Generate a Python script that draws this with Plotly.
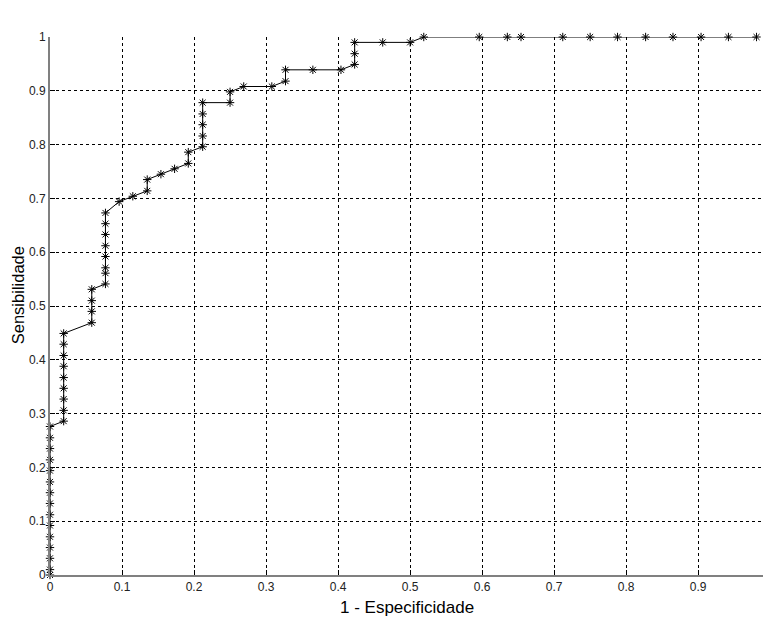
import plotly.graph_objects as go

fpr = [0, 0, 0, 0, 0, 0, 0, 0, 0, 0, 0, 0, 0, 0, 0,
       0.019, 0.019, 0.019, 0.019, 0.019, 0.019, 0.019, 0.019, 0.019,
       0.058, 0.058, 0.058, 0.058,
       0.077, 0.077, 0.077, 0.077, 0.077, 0.077, 0.077, 0.077,
       0.096, 0.115, 0.135, 0.135, 0.154, 0.173, 0.192, 0.192,
       0.212, 0.212, 0.212, 0.212, 0.212, 0.250, 0.250, 0.269, 0.308,
       0.327, 0.327, 0.365, 0.404, 0.423, 0.423, 0.423, 0.462, 0.500,
       0.519, 0.596, 0.635, 0.654, 0.712, 0.750, 0.788, 0.827, 0.865,
       0.904, 0.942, 0.981]
tpr = [0, 0.010, 0.031, 0.051, 0.071, 0.092, 0.112, 0.133, 0.153, 0.173,
       0.194, 0.214, 0.235, 0.255, 0.276,
       0.286, 0.306, 0.327, 0.347, 0.367, 0.388, 0.408, 0.429, 0.449,
       0.469, 0.490, 0.510, 0.531,
       0.541, 0.561, 0.571, 0.592, 0.612, 0.633, 0.653, 0.673,
       0.694, 0.704, 0.714, 0.735, 0.745, 0.755, 0.765, 0.786,
       0.796, 0.816, 0.837, 0.857, 0.878, 0.878, 0.898, 0.908, 0.908,
       0.918, 0.939, 0.939, 0.939, 0.949, 0.969, 0.990, 0.990, 0.990,
       1, 1, 1, 1, 1, 1, 1, 1, 1,
       1, 1, 1]

x_ticks = [0, 0.1, 0.2, 0.3, 0.4, 0.5, 0.6, 0.7, 0.8, 0.9]
x_labels = ["0", "0.1", "0.2", "0.3", "0.4", "0.5", "0.6", "0.7", "0.8", "0.9"]
y_ticks = [0, 0.1, 0.2, 0.3, 0.4, 0.5, 0.6, 0.7, 0.8, 0.9, 1]
y_labels = ["0", "0.1", "0.2", "0.3", "0.4", "0.5", "0.6", "0.7", "0.8", "0.9", "1"]

title_text = "Curva ROC"
x_title = "1 - Especificidade"
y_title = "Sensibilidade"

fig = go.Figure()
fig.add_trace(go.Scatter(
    x=fpr, y=tpr, mode="lines+markers",
    line=dict(color="black", width=1),
    marker=dict(symbol="asterisk-open", size=7, color="black",
                line=dict(color="black", width=1)),
    cliponaxis=False, showlegend=False))

font = "Liberation Sans, Arial, sans-serif"
axis_common = dict(
    showgrid=True, gridcolor="black", gridwidth=1, griddash="3px,3px",
    zeroline=False, showline=True, linecolor="#808080", linewidth=2,
    ticks="inside", ticklen=5, tickcolor="black",
    tickfont=dict(family=font, size=12, color="#222"),
)
fig.update_layout(
    width=763, height=619,
    margin=dict(l=50, r=0, t=37, b=44),
    paper_bgcolor="white", plot_bgcolor="white",
    xaxis=dict(range=[0, 0.99], tickvals=x_ticks, ticktext=x_labels, **axis_common),
    yaxis=dict(range=[0, 1], tickvals=y_ticks, ticktext=y_labels, **axis_common),
    annotations=[
        dict(text=title_text, xref="paper", yref="paper", x=0.5, y=0,
             yshift=0, showarrow=False, visible=False),
    ],
)
fig.update_layout(annotations=[
    dict(text=title_text, xref="x", yref="paper", x=0.495, y=1, yshift=18,
         xanchor="center", yanchor="middle", showarrow=False,
         font=dict(family=font, size=16.5, color="black")),
    dict(text=x_title, xref="x", yref="paper", x=0.495, y=0, yshift=-32,
         xanchor="center", yanchor="middle", showarrow=False,
         font=dict(family=font, size=17, color="black")),
    dict(text=y_title, xref="paper", yref="y", x=0, xshift=-32, y=0.52,
         xanchor="center", yanchor="middle", textangle=-90, showarrow=False,
         font=dict(family=font, size=16.5, color="black")),
])
fig.write_html("out.html")
